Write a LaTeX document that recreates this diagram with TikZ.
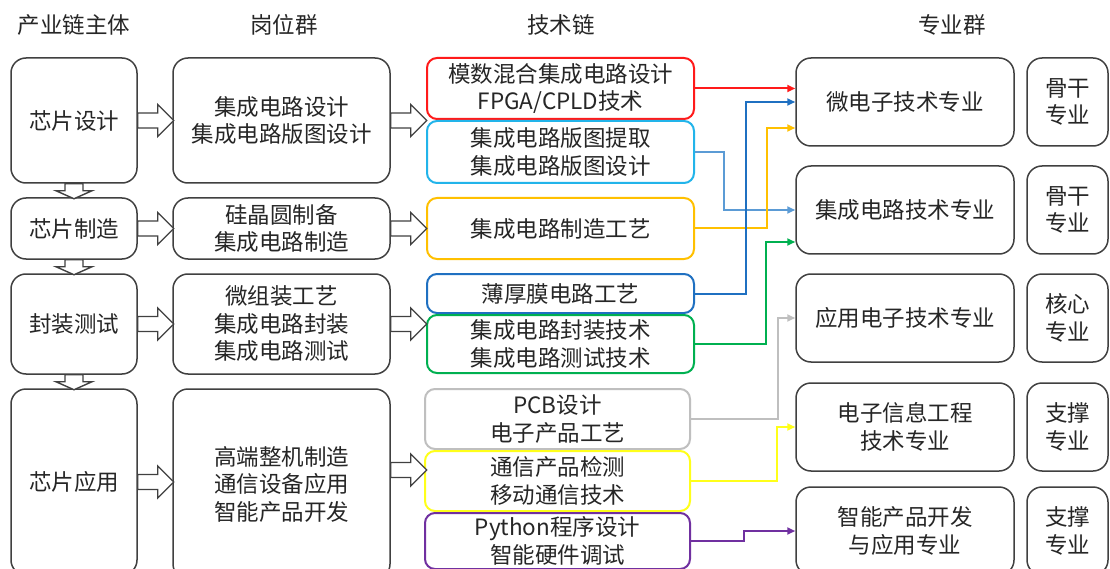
\documentclass[tikz,border=0pt]{standalone}
\usepackage{fontspec}
\setmainfont{Noto Sans CJK SC}
\usetikzlibrary{arrows.meta,calc}
\definecolor{outl}{HTML}{404040}
\definecolor{txt}{HTML}{262626}
\definecolor{cred}{HTML}{FF1A1A}
\definecolor{ccyan}{HTML}{22B4EA}
\definecolor{cltblue}{HTML}{5B9BD5}
\definecolor{corange}{HTML}{FFC000}
\definecolor{cblue}{HTML}{1F70C1}
\definecolor{cgreen}{HTML}{00B050}
\definecolor{cgray}{HTML}{BFBFBF}
\definecolor{cyellow}{HTML}{FFFF1A}
\definecolor{cpurple}{HTML}{7030A0}
\newcommand\fsz{\fontsize{22.5}{27.5}\selectfont}
\newcommand\hblock[1]{\draw[blk] #1 ++(0,-7.5) -- ++(20,0) -- ++(0,-8.5) -- ++(16,16) -- ++(-16,16) -- ++(0,-8.5) -- ++(-20,0) -- cycle;}
\newcommand\vblock[1]{\draw[blk] #1 ++(-9,0) -- ++(0,7) -- ++(-9,0) -- ++(18,8) -- ++(18,-8) -- ++(-9,0) -- ++(0,-7) -- cycle;}
\begin{document}
\begin{tikzpicture}[x=1pt,y=-1pt,
  every node/.style={text=txt,font=\fsz,align=center,inner sep=0pt},
  gbox/.style={draw=outl,line width=1.5pt,rounded corners=15pt,fill=white},
  tbox/.style={draw=#1,line width=2pt,rounded corners=10pt,fill=white,minimum width=267pt},
  blk/.style={draw=outl,line width=1.4pt,fill=white,line join=miter},
  conn/.style={line width=2pt,-{Triangle[length=8pt,width=7pt]}},
  head/.style={font=\fsz}]
\useasboundingbox (0,0) rectangle (1110,569);
\clip (0,0) rectangle (1110,569);
\fill[white] (0,0) rectangle (1110,569);
% headers
\node[head] (h1) at (74,25) {产业链主体};
\node[head] (h2) at (284,25) {岗位群};
\node[head] (h3) at (561,25) {技术链};
\node[head] (h4) at (952,25) {专业群};
% column 1
\node[gbox,minimum width=126pt,minimum height=125pt] (a1) at (74,120.5) {芯片设计};
\node[gbox,minimum width=126pt,minimum height=61pt] (a2) at (74,228.5) {芯片制造};
\node[gbox,minimum width=126pt,minimum height=100pt] (a3) at (74,324) {封装测试};
\node[gbox,minimum width=126pt,minimum height=186pt] (a4) at (74,482) {芯片应用};
% column 2
\node[gbox,minimum width=217pt,minimum height=125pt] (b1) at (281.5,120.5) {集成电路设计\\集成电路版图设计};
\node[gbox,minimum width=217pt,minimum height=61pt] (b2) at (281.5,228.5) {硅晶圆制备\\集成电路制造};
\node[gbox,minimum width=217pt,minimum height=100pt] (b3) at (281.5,324) {微组装工艺\\集成电路封装\\集成电路测试};
\node[gbox,minimum width=217pt,minimum height=190pt] (b4) at (281.5,484) {高端整机制造\\通信设备应用\\智能产品开发};
% column 3
\node[tbox=cred,minimum height=61pt] (c1) at (560.5,88.5) {模数混合集成电路设计\\FPGA/CPLD技术};
\node[tbox=ccyan,minimum height=62pt] (c2) at (560.5,152) {集成电路版图提取\\集成电路版图设计};
\node[tbox=corange,minimum height=61pt] (c3) at (560.5,228.5) {集成电路制造工艺};
\node[tbox=cblue,minimum height=39pt] (c4) at (560.5,293.5) {薄厚膜电路工艺};
\node[tbox=cgreen,minimum height=58pt] (c5) at (560.5,344) {集成电路封装技术\\集成电路测试技术};
\node[tbox=cgray,minimum width=265pt,minimum height=60pt] (c6) at (557.5,419) {PCB设计\\电子产品工艺};
\node[tbox=cyellow,minimum width=265pt,minimum height=60pt] (c7) at (557.5,481) {通信产品检测\\移动通信技术};
\node[tbox=cpurple,minimum width=265pt,minimum height=56pt] (c8) at (557.5,541) {Python程序设计\\智能硬件调试};
% column 4
\node[gbox,minimum width=218pt,minimum height=88pt] (d1) at (905,102) {微电子技术专业};
\node[gbox,minimum width=218pt,minimum height=88pt] (d2) at (905,210) {集成电路技术专业};
\node[gbox,minimum width=218pt,minimum height=88pt] (d3) at (905,318) {应用电子技术专业};
\node[gbox,minimum width=218pt,minimum height=88pt] (d4) at (905,427) {电子信息工程\\技术专业};
\node[gbox,minimum width=218pt,minimum height=88pt] (d5) at (905,531) {智能产品开发\\与应用专业};
% column 5
\node[gbox,minimum width=81pt,minimum height=88pt] (e1) at (1067.5,102) {骨干\\专业};
\node[gbox,minimum width=81pt,minimum height=88pt] (e2) at (1067.5,210) {骨干\\专业};
\node[gbox,minimum width=81pt,minimum height=88pt] (e3) at (1067.5,318) {核心\\专业};
\node[gbox,minimum width=81pt,minimum height=88pt] (e4) at (1067.5,427) {支撑\\专业};
\node[gbox,minimum width=81pt,minimum height=88pt] (e5) at (1067.5,531) {支撑\\专业};
% block arrows
\hblock{(a1.east)}
\hblock{(a2.east)}
\hblock{(a3.east)}
\hblock{(a4.east)}
\hblock{(b1.east)}
\hblock{(b2.east)}
\hblock{(b3.east)}
\hblock{($(b4.east)+(0,-14)$)}
\vblock{(a1.south)}
\vblock{(a2.south)}
\vblock{(a3.south)}
% connectors
\draw[conn,cred] (c1.east) -- (c1.east -| d1.west);
\draw[conn,cltblue] (c2.east) -- ++(29,0) |- (d2.west);
\draw[conn,corange] (c3.east) -- ++(72,0) |- ($(d1.west)+(0,26)$);
\draw[conn,cblue] (c4.east) -- ++(51,0) |- (d1.west);
\draw[conn,cgreen] (c5.east) -- ++(71,0) |- ($(d2.west)+(0,32)$);
\draw[conn,cgray] (c6.east) -- ++(87,0) |- (d3.west);
\draw[conn,cyellow] (c7.east) -- ++(86,0) |- (d4.west);
\draw[conn,cpurple] (c8.east) -- ++(53,0) |- (d5.west);
\end{tikzpicture}
\end{document}
